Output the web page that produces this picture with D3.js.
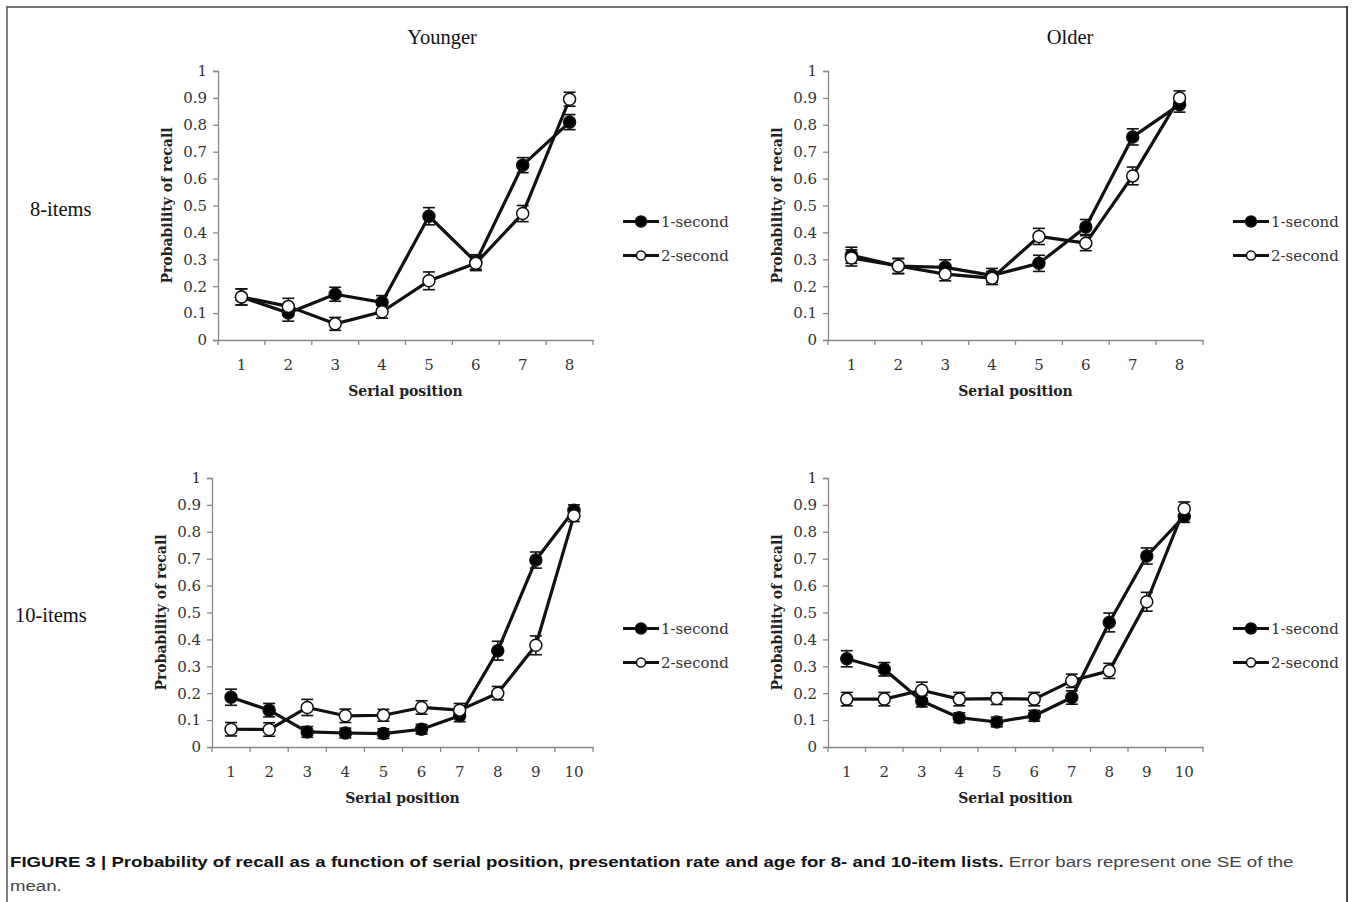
<!DOCTYPE html>
<html lang="en">
<head>
    <meta charset="UTF-8">
    <title>Figure 3 - Probability of recall</title>
    <script src="https://d3js.org/d3.v7.min.js"></script>
    <style>
        body {
            margin: 0;
            background: #fff;
        }
        svg {
            display: block;
        }
        .tick-label {
            font-family: "DejaVu Serif", "Liberation Serif", serif;
            font-size: 15px;
            fill: #333;
        }
        .axis-title {
            font-family: "DejaVu Serif", "Liberation Serif", serif;
            font-size: 14px;
            font-weight: bold;
            fill: #222;
        }
        .legend-text {
            font-family: "DejaVu Serif", "Liberation Serif", serif;
            font-size: 15px;
            fill: #333;
        }
        .head {
            font-family: "Liberation Serif", "Times New Roman", serif;
            font-size: 20.5px;
            fill: #111;
        }
        .caption {
            font-family: "Liberation Sans", Arial, sans-serif;
            font-size: 15.5px;
        }
    </style>
</head>
<body>

<div id="chart"></div>

<script>
    // serial positions
    const pos8 = [1, 2, 3, 4, 5, 6, 7, 8];
    const pos10 = [1, 2, 3, 4, 5, 6, 7, 8, 9, 10];
    const yTicks = [0, 0.1, 0.2, 0.3, 0.4, 0.5, 0.6, 0.7, 0.8, 0.9, 1];
    const seriesNames = ["1-second", "2-second"];

    // Younger, 8 items
    const young8One = [0.16, 0.10, 0.17, 0.14, 0.46, 0.29, 0.65, 0.81];
    const young8OneSe = [0.03, 0.03, 0.026, 0.025, 0.032, 0.027, 0.028, 0.028];
    const young8Two = [0.16, 0.125, 0.06, 0.105, 0.22, 0.285, 0.47, 0.895];
    const young8TwoSe = [0.03, 0.03, 0.024, 0.024, 0.033, 0.027, 0.03, 0.026];

    // Older, 8 items
    const old8One = [0.315, 0.275, 0.27, 0.24, 0.285, 0.42, 0.755, 0.875];
    const old8OneSe = [0.03, 0.028, 0.028, 0.026, 0.03, 0.028, 0.03, 0.028];
    const old8Two = [0.305, 0.275, 0.245, 0.23, 0.385, 0.36, 0.61, 0.90];
    const old8TwoSe = [0.03, 0.028, 0.025, 0.024, 0.03, 0.028, 0.033, 0.026];

    // Younger, 10 items
    const young10One = [0.185, 0.137, 0.056, 0.052, 0.05, 0.066, 0.116, 0.358, 0.695, 0.88];
    const young10OneSe = [0.03, 0.025, 0.02, 0.018, 0.018, 0.018, 0.022, 0.035, 0.03, 0.02];
    const young10Two = [0.066, 0.065, 0.147, 0.116, 0.118, 0.147, 0.137, 0.20, 0.378, 0.86];
    const young10TwoSe = [0.025, 0.025, 0.03, 0.025, 0.022, 0.025, 0.025, 0.025, 0.035, 0.022];

    // Older, 10 items
    const old10One = [0.328, 0.289, 0.171, 0.109, 0.093, 0.116, 0.184, 0.463, 0.71, 0.857];
    const old10OneSe = [0.03, 0.025, 0.022, 0.018, 0.018, 0.02, 0.025, 0.035, 0.03, 0.022];
    const old10Two = [0.178, 0.178, 0.211, 0.178, 0.18, 0.178, 0.246, 0.283, 0.54, 0.886];
    const old10TwoSe = [0.025, 0.025, 0.03, 0.025, 0.022, 0.025, 0.025, 0.028, 0.035, 0.025];

    const width = 1352, height = 902;

    const svg = d3.select("#chart")
        .append("svg")
        .attr("width", width)
        .attr("height", height);

    // frame around the figure
    svg.append("line").attr("x1", 7).attr("y1", 7).attr("x2", 1347).attr("y2", 7)
        .attr("stroke", "#777").attr("stroke-width", 2);
    svg.append("line").attr("x1", 7).attr("y1", 6).attr("x2", 7).attr("y2", height)
        .attr("stroke", "#555").attr("stroke-width", 1.5);
    svg.append("line").attr("x1", 1347).attr("y1", 6).attr("x2", 1347).attr("y2", height)
        .attr("stroke", "#111").attr("stroke-width", 1.5);

    const panels = [
        {cats: pos8, one: young8One, oneSe: young8OneSe, two: young8Two, twoSe: young8TwoSe,
         left: 218, right: 593, top: 71, bottom: 340, legendX: 623},
        {cats: pos8, one: old8One, oneSe: old8OneSe, two: old8Two, twoSe: old8TwoSe,
         left: 828, right: 1203, top: 71, bottom: 340, legendX: 1233},
        {cats: pos10, one: young10One, oneSe: young10OneSe, two: young10Two, twoSe: young10TwoSe,
         left: 212, right: 593, top: 478, bottom: 747, legendX: 623},
        {cats: pos10, one: old10One, oneSe: old10OneSe, two: old10Two, twoSe: old10TwoSe,
         left: 828, right: 1203, top: 478, bottom: 747, legendX: 1233}
    ];

    panels.forEach(drawPanel);

    function drawPanel(p) {
        const g = svg.append("g");

        const x = d3.scaleBand()
            .domain(p.cats)
            .range([p.left, p.right])
            .padding(0);
        const cx = d => x(d) + x.bandwidth() / 2;

        const y = d3.scaleLinear()
            .domain([0, 1])
            .range([p.bottom, p.top]);

        // y axis
        const yAxis = g.append("g")
            .attr("transform", `translate(${p.left},0)`)
            .call(d3.axisLeft(y).tickValues(yTicks).tickSize(5).tickPadding(6)
                .tickFormat(d3.format("~g")));
        yAxis.attr("font-family", null).attr("font-size", null);
        yAxis.select(".domain").attr("stroke", "#888").attr("stroke-width", 1.3);
        yAxis.selectAll(".tick line").attr("stroke", "#888").attr("stroke-width", 1.3);
        yAxis.selectAll(".tick text").attr("class", "tick-label");

        // x axis: labels centred in bands, tick marks on band edges
        const xAxis = g.append("g")
            .attr("transform", `translate(0,${p.bottom})`)
            .call(d3.axisBottom(x).tickSize(0).tickPadding(19).tickSizeOuter(0));
        xAxis.attr("font-family", null).attr("font-size", null);
        xAxis.select(".domain").attr("stroke", "#888").attr("stroke-width", 1.3);
        xAxis.selectAll(".tick text").attr("class", "tick-label");

        const edges = p.cats.map(d => x(d)).concat([p.right]);
        g.selectAll(".edge-tick")
            .data(edges)
            .enter()
            .append("line")
            .attr("x1", d => d).attr("x2", d => d)
            .attr("y1", p.bottom).attr("y2", p.bottom + 5)
            .attr("stroke", "#888").attr("stroke-width", 1.3);

        // axis titles
        g.append("text")
            .attr("class", "axis-title")
            .attr("x", (p.left + p.right) / 2)
            .attr("y", p.bottom + 56)
            .attr("text-anchor", "middle")
            .text("Serial position");

        g.append("text")
            .attr("class", "axis-title")
            .attr("transform", `translate(${p.left - 46},${(p.top + p.bottom) / 2}) rotate(-90)`)
            .attr("text-anchor", "middle")
            .text("Probability of recall");

        const line = d3.line()
            .x((d, i) => cx(p.cats[i]))
            .y(d => y(d));

        const series = [
            {vals: p.one, se: p.oneSe, fill: "#000"},
            {vals: p.two, se: p.twoSe, fill: "#fff"}
        ];

        // lines
        series.forEach(s => {
            g.append("path")
                .datum(s.vals)
                .attr("d", line)
                .attr("fill", "none")
                .attr("stroke", "#111")
                .attr("stroke-width", 3.2)
                .attr("stroke-linejoin", "round");
        });

        // error bars, then markers
        series.forEach(s => {
            const eb = g.append("g");
            eb.selectAll("line.v")
                .data(s.vals)
                .enter()
                .append("line")
                .attr("x1", (d, i) => cx(p.cats[i]))
                .attr("x2", (d, i) => cx(p.cats[i]))
                .attr("y1", (d, i) => y(d - s.se[i]))
                .attr("y2", (d, i) => y(d + s.se[i]))
                .attr("stroke", "#111").attr("stroke-width", 1.6);
            [1, -1].forEach(sign => {
                eb.selectAll(null)
                    .data(s.vals)
                    .enter()
                    .append("line")
                    .attr("x1", (d, i) => cx(p.cats[i]) - 6)
                    .attr("x2", (d, i) => cx(p.cats[i]) + 6)
                    .attr("y1", (d, i) => y(d + sign * s.se[i]))
                    .attr("y2", (d, i) => y(d + sign * s.se[i]))
                    .attr("stroke", "#111").attr("stroke-width", 1.6);
            });
        });

        series.forEach(s => {
            g.selectAll(null)
                .data(s.vals)
                .enter()
                .append("circle")
                .attr("cx", (d, i) => cx(p.cats[i]))
                .attr("cy", d => y(d))
                .attr("r", 6)
                .attr("fill", s.fill)
                .attr("stroke", "#111")
                .attr("stroke-width", 1.5);
        });

        // legend
        const ly = (p.top + p.bottom) / 2;
        series.forEach((s, i) => {
            const yy = ly + 16 + i * 34;
            g.append("line")
                .attr("x1", p.legendX).attr("x2", p.legendX + 36)
                .attr("y1", yy).attr("y2", yy)
                .attr("stroke", "#111").attr("stroke-width", 3);
            g.append("circle")
                .attr("cx", p.legendX + 18).attr("cy", yy)
                .attr("r", i === 0 ? 5.5 : 4.5)
                .attr("fill", s.fill).attr("stroke", "#111").attr("stroke-width", 1.5);
            g.append("text")
                .attr("class", "legend-text")
                .attr("x", p.legendX + 38)
                .attr("y", yy + 5)
                .text(seriesNames[i]);
        });
    }

    // column and row headings
    svg.append("text").attr("class", "head").attr("x", 442).attr("y", 44)
        .attr("text-anchor", "middle").text("Younger");
    svg.append("text").attr("class", "head").attr("x", 1070).attr("y", 44)
        .attr("text-anchor", "middle").text("Older");
    svg.append("text").attr("class", "head").attr("x", 30).attr("y", 216).text("8-items");
    svg.append("text").attr("class", "head").attr("x", 15).attr("y", 622).text("10-items");

    // caption
    const cap = svg.append("text")
        .attr("class", "caption")
        .attr("x", 0)
        .attr("y", 0);
    cap.append("tspan")
        .attr("font-weight", "bold")
        .attr("fill", "#111")
        .text("FIGURE 3 | Probability of recall as a function of serial position, presentation rate and age for 8- and 10-item lists.");
    cap.append("tspan")
        .attr("fill", "#444")
        .text(" Error bars represent one SE of the");
    const capW = cap.node().getComputedTextLength();
    const k = 1285 / capW;
    cap.attr("transform", `translate(10,867) scale(${k},1)`);

    svg.append("text")
        .attr("class", "caption")
        .attr("fill", "#444")
        .attr("transform", `translate(10,891) scale(${k},1)`)
        .text("mean.");
</script>

</body>
</html>
